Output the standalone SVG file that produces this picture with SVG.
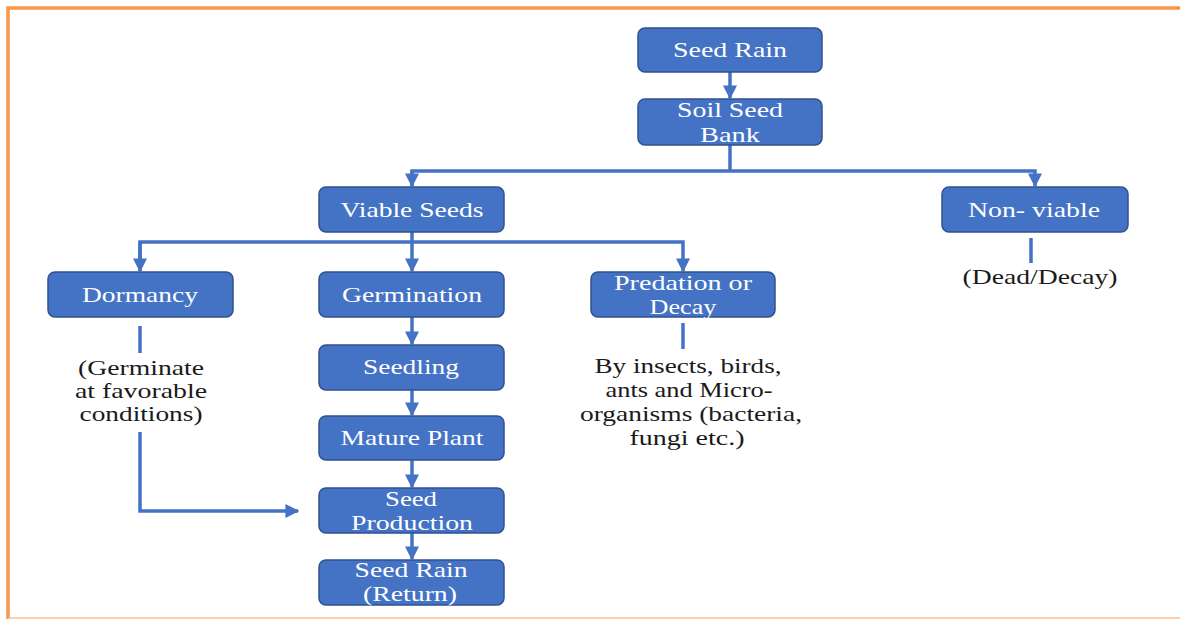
<svg xmlns="http://www.w3.org/2000/svg" width="1180" height="619" viewBox="0 0 1180 619">
<style>
.box{fill:#4472C4;stroke:#2F528F;stroke-width:1.5}
.bt{font-family:"Liberation Serif","Times New Roman","DejaVu Serif",serif;font-size:21px;fill:#ffffff;text-anchor:middle}
.nt{font-family:"Liberation Serif","Times New Roman","DejaVu Serif",serif;font-size:21px;fill:#1a1a1a;text-anchor:middle}
.ln{fill:none;stroke:#4472C4;stroke-width:3.5}
</style>
<defs>
<marker id="ah" viewBox="0 0 10 10" refX="9" refY="5" markerWidth="4" markerHeight="4" orient="auto" markerUnits="strokeWidth">
<path d="M0,0 L10,5 L0,10 z" fill="#4472C4"/>
</marker>
</defs>
<rect width="1180" height="619" fill="#ffffff"/>
<g id="frame">
<path d="M8,619 L8,8 L1180,8" fill="none" stroke="#F79646" stroke-width="3.5"/>
<line x1="8" y1="618" x2="1180" y2="618" stroke="#FAC090" stroke-width="1.5"/>
</g>
<g id="connectors">
<line class="ln" x1="730" y1="72" x2="730" y2="98" marker-end="url(#ah)"/>
<path class="ln" d="M730,145 L730,171"/>
<path class="ln" d="M412,186 L412,171 L1035,171 L1035,186" marker-end="url(#ah)"/>
<line class="ln" x1="412" y1="171" x2="412" y2="186" marker-end="url(#ah)"/>
<path class="ln" d="M412,232 L412,271" marker-end="url(#ah)"/>
<path class="ln" d="M140,271 L140,242 L683,242 L683,271" marker-end="url(#ah)"/>
<line class="ln" x1="140" y1="242" x2="140" y2="271" marker-end="url(#ah)"/>
<line class="ln" x1="412" y1="317" x2="412" y2="344" marker-end="url(#ah)"/>
<line class="ln" x1="412" y1="390" x2="412" y2="415" marker-end="url(#ah)"/>
<line class="ln" x1="412" y1="460" x2="412" y2="487" marker-end="url(#ah)"/>
<line class="ln" x1="412" y1="533" x2="412" y2="559" marker-end="url(#ah)"/>
<line class="ln" x1="140" y1="326" x2="140" y2="353"/>
<path class="ln" d="M140,432 L140,511 L298,511" marker-end="url(#ah)"/>
<line class="ln" x1="683" y1="323" x2="683" y2="349"/>
<line class="ln" x1="1031" y1="238" x2="1031" y2="263"/>
</g>
<g id="seed-rain"><rect class="box" x="638" y="28" width="184" height="44" rx="7"/><text class="bt" x="730" y="57" textLength="114" lengthAdjust="spacingAndGlyphs">Seed Rain</text></g>
<g id="soil-seed-bank"><rect class="box" x="638" y="99" width="184" height="46" rx="7"/><text class="bt" x="730" y="117" textLength="106" lengthAdjust="spacingAndGlyphs">Soil Seed</text><text class="bt" x="730" y="142" textLength="60" lengthAdjust="spacingAndGlyphs">Bank</text></g>
<g id="viable-seeds"><rect class="box" x="319" y="187" width="185" height="45" rx="7"/><text class="bt" x="412" y="217" textLength="143" lengthAdjust="spacingAndGlyphs">Viable Seeds</text></g>
<g id="non-viable"><rect class="box" x="942" y="187" width="186" height="45" rx="7"/><text class="bt" x="1034" y="217" textLength="132" lengthAdjust="spacingAndGlyphs">Non- viable</text></g>
<g id="dormancy"><rect class="box" x="48" y="272" width="185" height="45" rx="7"/><text class="bt" x="140" y="302" textLength="116" lengthAdjust="spacingAndGlyphs">Dormancy</text></g>
<g id="germination"><rect class="box" x="319" y="272" width="185" height="45" rx="7"/><text class="bt" x="412" y="302" textLength="140" lengthAdjust="spacingAndGlyphs">Germination</text></g>
<g id="predation"><rect class="box" x="591" y="272" width="184" height="45" rx="7"/><text class="bt" x="683" y="290" textLength="138" lengthAdjust="spacingAndGlyphs">Predation or</text><text class="bt" x="683" y="314" textLength="67" lengthAdjust="spacingAndGlyphs">Decay</text></g>
<g id="seedling"><rect class="box" x="319" y="345" width="185" height="45" rx="7"/><text class="bt" x="411" y="374" textLength="96" lengthAdjust="spacingAndGlyphs">Seedling</text></g>
<g id="mature-plant"><rect class="box" x="319" y="416" width="185" height="44" rx="7"/><text class="bt" x="412" y="445" textLength="143" lengthAdjust="spacingAndGlyphs">Mature Plant</text></g>
<g id="seed-production"><rect class="box" x="319" y="488" width="185" height="45" rx="7"/><text class="bt" x="411" y="506" textLength="52" lengthAdjust="spacingAndGlyphs">Seed</text><text class="bt" x="412" y="530" textLength="122" lengthAdjust="spacingAndGlyphs">Production</text></g>
<g id="seed-rain-return"><rect class="box" x="319" y="560" width="185" height="45" rx="7"/><text class="bt" x="411" y="577" textLength="113" lengthAdjust="spacingAndGlyphs">Seed Rain</text><text class="bt" x="410" y="601" textLength="94" lengthAdjust="spacingAndGlyphs">(Return)</text></g>
<g id="dormancy-note"><text class="nt" x="141" y="375" textLength="126" lengthAdjust="spacingAndGlyphs">(Germinate</text><text class="nt" x="141" y="398" textLength="132" lengthAdjust="spacingAndGlyphs">at favorable</text><text class="nt" x="141" y="421" textLength="123" lengthAdjust="spacingAndGlyphs">conditions)</text></g>
<g id="predation-note"><text class="nt" x="688" y="373" textLength="187" lengthAdjust="spacingAndGlyphs">By insects, birds,</text><text class="nt" x="689" y="397" textLength="167" lengthAdjust="spacingAndGlyphs">ants and Micro-</text><text class="nt" x="691" y="421" textLength="222" lengthAdjust="spacingAndGlyphs">organisms (bacteria,</text><text class="nt" x="687" y="445" textLength="115" lengthAdjust="spacingAndGlyphs">fungi etc.)</text></g>
<g id="nonviable-note"><text class="nt" x="1040" y="284" textLength="155" lengthAdjust="spacingAndGlyphs">(Dead/Decay)</text></g>
</svg>
